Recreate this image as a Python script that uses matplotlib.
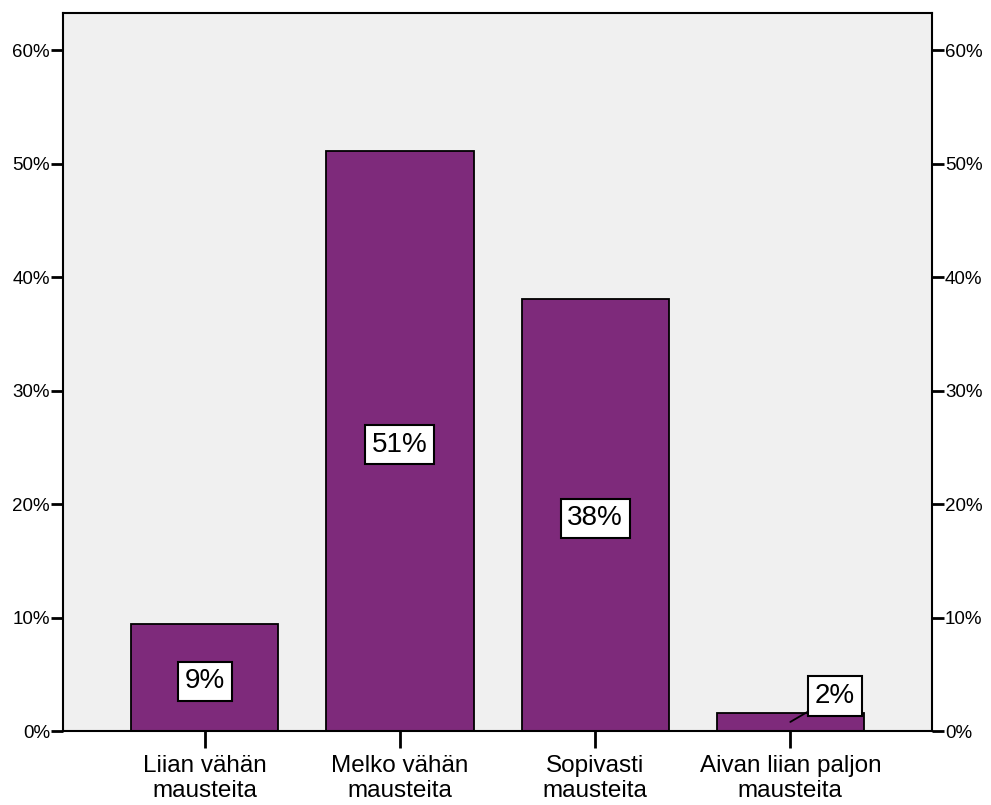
import numpy as np
import matplotlib.pyplot as plt
from matplotlib.ticker import FuncFormatter

plt.rcParams['font.family'] = ['Liberation Sans', 'DejaVu Sans']

categories = ['Liian vähän\nmausteita', 'Melko vähän\nmausteita',
              'Sopivasti\nmausteita', 'Aivan liian paljon\nmausteita']
percents = [9.4, 51.1, 38.1, 1.6]
yticks = [0, 10, 20, 30, 40, 50, 60]

bar_color = '#7E2A7B'
bg_color = '#F0F0F0'

fig = plt.figure(figsize=(9.91, 8.05), dpi=100)
ax = fig.add_axes([0.0636, 0.0919, 0.8769, 0.892])
ax.set_facecolor(bg_color)

x = np.arange(len(categories))
bars = ax.bar(x, percents, width=0.754, color=bar_color,
              edgecolor='black', linewidth=1.3, zorder=2)

ax.set_xlim(-0.726, len(categories) - 1 + 0.726)
ax.set_ylim(0, 63.3)
ax.set_yticks(yticks)
ax.yaxis.set_major_formatter(FuncFormatter(lambda v, p: '%d%%' % v))
ax.set_xticks(x)
ax.set_xticklabels(categories, fontsize=17.5, linespacing=1.17)

ax.tick_params(axis='y', which='both', direction='out', length=8.8, width=2,
               labelsize=13.5, left=True, right=True, labelleft=True,
               labelright=True, pad=0.5)
ax.tick_params(axis='x', direction='out', length=12, width=2, pad=5.5)
for s in ax.spines.values():
    s.set_linewidth(1.5)

box = dict(boxstyle='square,pad=0.24', fc='white', ec='black', lw=1.5)
for xi, v in zip(x, percents):
    label = '%d%%' % round(v)
    if v < 5:
        # small bar: put the label beside it with a leader line
        ax.annotate(label, xy=(xi, v / 2), xytext=(xi + 0.228, v / 2 + 2.3),
                    ha='center', va='center', fontsize=20, bbox=box,
                    arrowprops=dict(arrowstyle='-', color='black', lw=1.3,
                                    shrinkA=0, shrinkB=0), zorder=3)
    else:
        ax.annotate(label, xy=(xi, v / 2), xytext=(0, -2.5),
                    textcoords='offset points', ha='center', va='center',
                    fontsize=20, bbox=box, zorder=3)

fig.savefig('out.png', dpi=100)
